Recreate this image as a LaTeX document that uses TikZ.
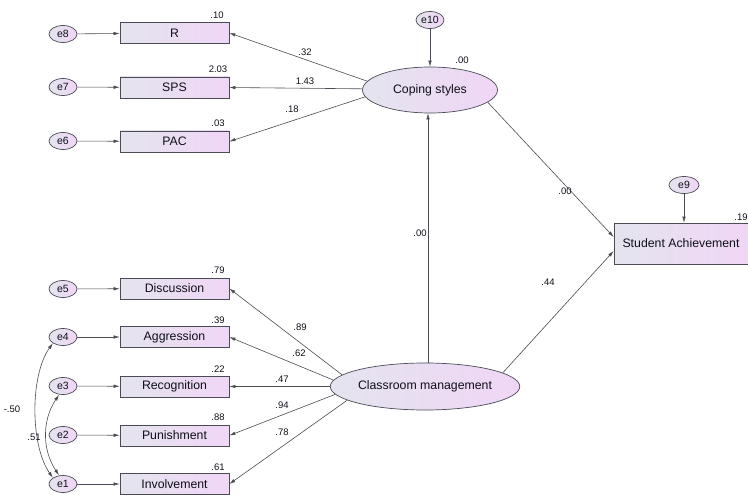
\documentclass[tikz,border=0pt]{standalone}
\usepackage{fontspec}
\setmainfont{Liberation Sans}
\usetikzlibrary{shapes.geometric,arrows.meta}
\definecolor{lg}{RGB}{228,228,238}
\definecolor{lp}{RGB}{240,214,246}
\definecolor{bd}{RGB}{75,75,85}
\definecolor{tx}{RGB}{15,15,25}
\tikzset{
  shd/.style={left color=lg,right color=lp,draw=bd,line width=0.7pt,text=tx,inner sep=0pt},
  errnode/.style={shd,ellipse,minimum width=28pt,minimum height=17pt,font=\fontsize{10.5}{10}\selectfont},
  obsbox/.style={shd,rectangle,minimum width=109pt,minimum height=21pt,font=\fontsize{12.3}{12}\selectfont},
  latent/.style={shd,ellipse,font=\fontsize{12.3}{12}\selectfont},
  num/.style={font=\fontsize{9.5}{10}\selectfont,text=tx,inner sep=0pt},
  arr/.style={draw=bd,line width=0.6pt,-{Latex[length=6pt,width=3.5pt]}},
  darr/.style={draw=bd,line width=0.6pt,{Latex[length=6pt,width=3.5pt]}-{Latex[length=6pt,width=3.5pt]}}
}
\begin{document}
\begin{tikzpicture}[x=1pt,y=-1pt]
\useasboundingbox (0,0) rectangle (748,495);
% error terms
\node[errnode] (e8) at (63,34) {e8};
\node[errnode] (e7) at (63,87) {e7};
\node[errnode] (e6) at (63,141) {e6};
\node[errnode] (e5) at (63,289) {e5};
\node[errnode] (e4) at (63,337) {e4};
\node[errnode] (e3) at (63,386) {e3};
\node[errnode] (e2) at (63,435) {e2};
\node[errnode] (e1) at (63,484) {e1};
\node[errnode] (e10) at (430,20) {e10};
\node[errnode,minimum width=30pt] (e9) at (684,185) {e9};
% observed
\node[obsbox] (R) at (174.5,33) {R};
\node[obsbox] (SPS) at (174.5,87.5) {SPS};
\node[obsbox] (PAC) at (174.5,141.5) {PAC};
\node[obsbox] (Dis) at (174.5,288.5) {Discussion};
\node[obsbox] (Agg) at (174.5,337) {Aggression};
\node[obsbox] (Rec) at (174.5,386.5) {Recognition};
\node[obsbox] (Pun) at (174.5,435.5) {Punishment};
\node[obsbox] (Inv) at (174.5,484) {Involvement};
\node[obsbox,minimum width=134pt,minimum height=41pt] (SA) at (681,243.5) {Student Achievement};
% latent
\node[latent,minimum width=135pt,minimum height=46pt] (CS) at (430,90) {Coping styles};
\node[latent,minimum width=150pt,minimum height=47pt] (CM) at (425,386.5) {Classroom management};
% error arrows
\draw[arr] (e8) -- (R);
\draw[arr] (e7) -- (SPS);
\draw[arr] (e6) -- (PAC);
\draw[arr] (e5) -- (Dis);
\draw[arr] (e4) -- (Agg);
\draw[arr] (e3) -- (Rec);
\draw[arr] (e2) -- (Pun);
\draw[arr] (e1) -- (Inv);
\draw[arr] (e10) -- (CS);
\draw[arr] (e9) -- (SA.north -| e9);
% loadings
\draw[arr] (CS.172) -- (R.east);
\draw[arr] (CS.179) -- (SPS.east);
\draw[arr] (CS.186) -- (PAC.east);
\draw[arr] (CM.172) -- (Dis.east);
\draw[arr] (CM.176) -- (Agg.east);
\draw[arr] (CM.180) -- (Rec.east);
\draw[arr] (CM.185) -- (Pun.east);
\draw[arr] (CM.190) -- (Inv.east);
% structural
\coordinate (cmtop) at (428,363);
\draw[arr] (cmtop) -- (CS.south -| cmtop);
\draw[arr] (CS.-12) -- (SA.west |- 0,237);
\draw[arr] (CM.10) -- (SA.west |- 0,251);
% covariances
\draw[darr] (e4.south west) .. controls (30,375) and (30,445) .. (e1.north west);
\draw[darr] ([xshift=-4pt]e3.south) .. controls (42,420) and (42,450) .. ([xshift=-4pt]e1.north);
% numbers
\node[num] (n1) at (217,15) {.10};
\node[num] (n2) at (218,69) {2.03};
\node[num] (n3) at (218,123) {.03};
\node[num] (n4) at (218,270) {.79};
\node[num] (n5) at (218,320) {.39};
\node[num] (n6) at (218,369) {.22};
\node[num] (n7) at (218,417) {.88};
\node[num] (n8) at (218,467) {.61};
\node[num] (n9) at (462,60) {.00};
\node[num] (n10) at (741,217) {.19};
\node[num] (n11) at (305,52) {.32};
\node[num] (n12) at (305,81) {1.43};
\node[num] (n13) at (292,109) {.18};
\node[num] (n14) at (300,327) {.89};
\node[num] (n15) at (299,353) {.62};
\node[num] (n16) at (282,379) {.47};
\node[num] (n17) at (282,405) {.94};
\node[num] (n18) at (282,432) {.78};
\node[num] (n19) at (420,233) {.00};
\node[num] (n20) at (565,191) {.00};
\node[num] (n21) at (548,282) {.44};
\node[num] (n22) at (12,409) {-.50};
\node[num] (n23) at (34,437) {.51};
\end{tikzpicture}
\end{document}
